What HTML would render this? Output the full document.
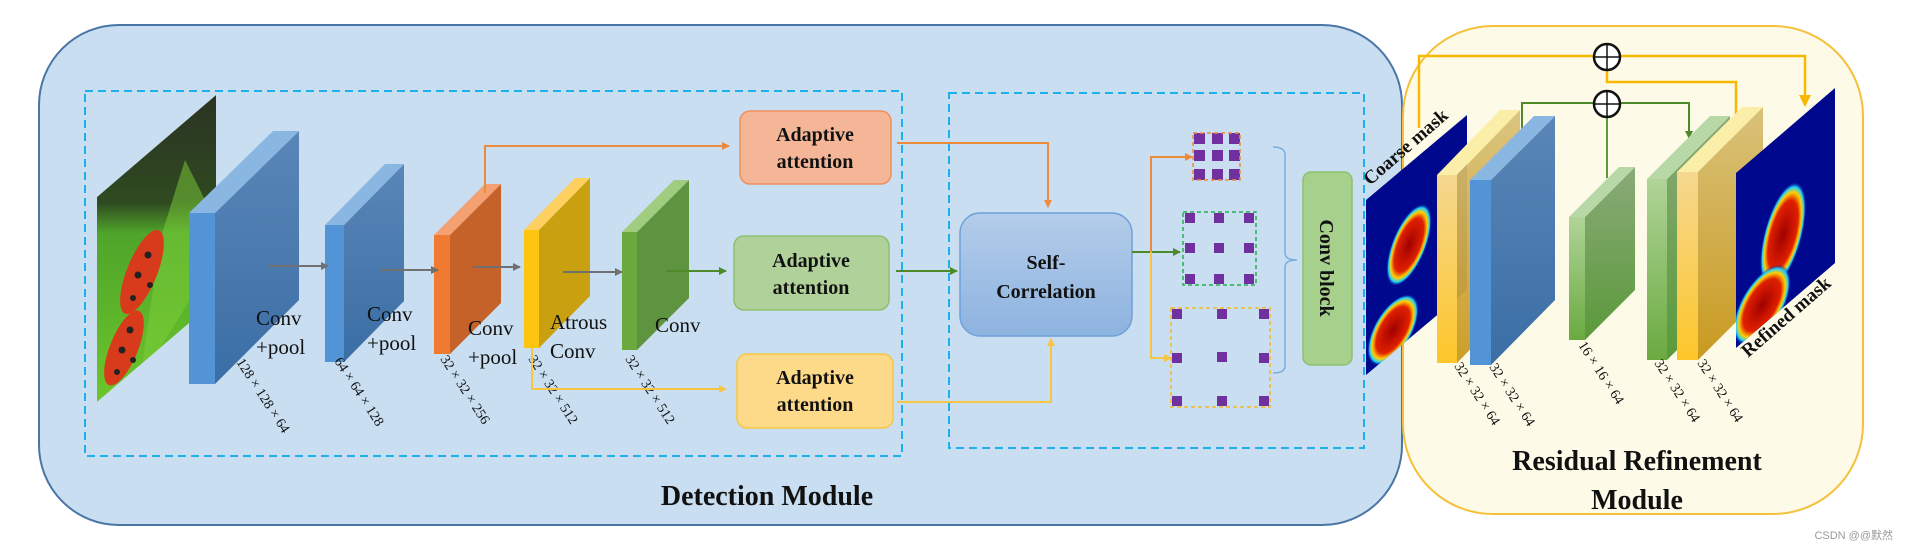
<!DOCTYPE html>
<html><head><meta charset="utf-8"><style>
html,body{margin:0;padding:0;background:#fff;}
svg{display:block;}
text{font-family:"Liberation Serif",serif;}
</style></head><body>
<svg width="1907" height="551" viewBox="0 0 1907 551" xmlns="http://www.w3.org/2000/svg">
<defs>
<linearGradient id="img" x1="0" y1="0" x2="0" y2="1"><stop offset="0" stop-color="#2b3323"/><stop offset="0.35" stop-color="#2f4a20"/><stop offset="0.45" stop-color="#4fa52a"/><stop offset="1" stop-color="#6cc62a"/></linearGradient>
<linearGradient id="sc" x1="0" y1="0" x2="0" y2="1"><stop offset="0" stop-color="#b4cdea"/><stop offset="1" stop-color="#8db3e0"/></linearGradient>
<linearGradient id="bs" x1="0" y1="0" x2="0" y2="1"><stop offset="0" stop-color="#5a86b8"/><stop offset="1" stop-color="#3a6ea5"/></linearGradient>
<linearGradient id="gs" x1="0" y1="0" x2="0" y2="1"><stop offset="0" stop-color="#8aaa78"/><stop offset="1" stop-color="#5a9a3a"/></linearGradient>
<linearGradient id="ys" x1="0" y1="0" x2="0" y2="1"><stop offset="0" stop-color="#d9c27a"/><stop offset="1" stop-color="#c99a20"/></linearGradient>
<linearGradient id="yf" x1="0" y1="0" x2="0" y2="1"><stop offset="0" stop-color="#f5d890"/><stop offset="1" stop-color="#fdc62a"/></linearGradient>
<linearGradient id="gf" x1="0" y1="0" x2="0" y2="1"><stop offset="0" stop-color="#b0d498"/><stop offset="1" stop-color="#6aaa40"/></linearGradient>
<radialGradient id="heat"><stop offset="0" stop-color="#a00000"/><stop offset="0.65" stop-color="#e02000"/><stop offset="0.8" stop-color="#ffd000"/><stop offset="0.9" stop-color="#20d0ff"/><stop offset="1" stop-color="#000090" stop-opacity="0"/></radialGradient>
<clipPath id="cm"><polygon points="1366,200 1467,115 1467,290 1366,375"/></clipPath>
<clipPath id="rm"><polygon points="1736,173 1835,88 1835,263 1736,348"/></clipPath>
<clipPath id="im"><polygon points="97,197 216,95 216,300 97,402"/></clipPath>
<marker id="ao" markerWidth="8" markerHeight="8" refX="7" refY="4" orient="auto" markerUnits="userSpaceOnUse"><path d="M0,0 L8,4 L0,8z" fill="#ee8a3c"/></marker>
<marker id="ag" markerWidth="8" markerHeight="8" refX="7" refY="4" orient="auto" markerUnits="userSpaceOnUse"><path d="M0,0 L8,4 L0,8z" fill="#4e8a2a"/></marker>
<marker id="ay" markerWidth="8" markerHeight="8" refX="7" refY="4" orient="auto" markerUnits="userSpaceOnUse"><path d="M0,0 L8,4 L0,8z" fill="#f8c444"/></marker>
<marker id="ay2" markerWidth="12" markerHeight="12" refX="10" refY="6" orient="auto" markerUnits="userSpaceOnUse"><path d="M0,0 L12,6 L0,12z" fill="#f8b800"/></marker>
<marker id="ak" markerWidth="8" markerHeight="8" refX="7" refY="4" orient="auto" markerUnits="userSpaceOnUse"><path d="M0,0 L8,4 L0,8z" fill="#707070"/></marker>
</defs>

<rect x="39" y="25" width="1363" height="500" rx="80" ry="80" fill="#c9def1" stroke="#4a76a6" stroke-width="2"/>
<rect x="1403" y="26" width="460" height="488" rx="90" ry="90" fill="#fdfbe8" stroke="#f5c03a" stroke-width="2"/>

<rect x="85" y="91" width="817" height="365" fill="none" stroke="#1cb0ec" stroke-width="2" stroke-dasharray="8,5"/>
<rect x="949" y="93" width="415" height="355" fill="none" stroke="#1cb0ec" stroke-width="2" stroke-dasharray="8,5"/>

<!-- input image -->
<g clip-path="url(#im)">
<polygon points="97,197 216,95 216,300 97,402" fill="url(#img)"/>
<polygon points="160,240 185,160 205,200 190,300 140,380" fill="#7ed03a" opacity="0.5"/>
<ellipse cx="142" cy="272" rx="15" ry="45" transform="rotate(22 142 272)" fill="#d83a1c"/>
<ellipse cx="124" cy="348" rx="14" ry="40" transform="rotate(22 124 348)" fill="#d83a1c"/>
<g fill="#222"><circle cx="148" cy="255" r="3.5"/><circle cx="138" cy="275" r="3.5"/><circle cx="150" cy="285" r="3"/><circle cx="133" cy="298" r="3"/><circle cx="130" cy="330" r="3.5"/><circle cx="122" cy="350" r="3.5"/><circle cx="133" cy="360" r="3"/><circle cx="117" cy="372" r="3"/></g>
</g>

<polygon points="215,213 299,131 299,300 215,384" fill="url(#bs)"/>
<polygon points="189,213 273,131 299,131 215,213" fill="#8ab6e2"/>
<rect x="189" y="213" width="26" height="171" fill="#5294d6"/>
<polygon points="344,225 404,164 404,301 344,362" fill="url(#bs)"/>
<polygon points="325,225 385,164 404,164 344,225" fill="#8ab6e2"/>
<rect x="325" y="225" width="19" height="137" fill="#5294d6"/>
<polygon points="450,235 501,184 501,303 450,354" fill="#c4622a"/>
<polygon points="434,235 485,184 501,184 450,235" fill="#f5a070"/>
<rect x="434" y="235" width="16" height="119" fill="#f07a30"/>
<polygon points="539,230 590,178 590,296 539,348" fill="#c9a010"/>
<polygon points="524,230 575,178 590,178 539,230" fill="#fdd060"/>
<rect x="524" y="230" width="15" height="118" fill="#fec510"/>
<polygon points="637,232 689,180 689,298 637,350" fill="#5e9440"/>
<polygon points="622,232 674,180 689,180 637,232" fill="#a0cc80"/>
<rect x="622" y="232" width="15" height="118" fill="#6aaa3c"/>

<g stroke="#707070" stroke-width="2" marker-end="url(#ak)">
<line x1="268" y1="266" x2="328" y2="266"/>
<line x1="380" y1="270" x2="438" y2="270"/>
<line x1="473" y1="267" x2="520" y2="267"/>
<line x1="563" y1="272" x2="622" y2="272"/>
</g>
<line x1="667" y1="271" x2="726" y2="271" stroke="#4e8a2a" stroke-width="2" marker-end="url(#ag)"/>

<g font-size="21" fill="#111">
<text x="256" y="325">Conv</text><text x="256" y="354">+pool</text>
<text x="367" y="321">Conv</text><text x="367" y="350">+pool</text>
<text x="468" y="335">Conv</text><text x="468" y="364">+pool</text>
<text x="550" y="329">Atrous</text><text x="550" y="358">Conv</text>
<text x="655" y="332">Conv</text>
</g>
<g font-size="14" fill="#111">
<text transform="translate(236,362) rotate(57)">128 × 128 × 64</text>
<text transform="translate(334,361) rotate(57)">64 × 64 × 128</text>
<text transform="translate(440,359) rotate(57)">32 × 32 × 256</text>
<text transform="translate(528,359) rotate(57)">32 × 32 × 512</text>
<text transform="translate(625,359) rotate(57)">32 × 32 × 512</text>
</g>

<polyline points="485,193 485,146 729,146" fill="none" stroke="#ee8a3c" stroke-width="2" marker-end="url(#ao)"/>
<polyline points="532,348 532,389 726,389" fill="none" stroke="#f8c444" stroke-width="2" marker-end="url(#ay)"/>

<rect x="740" y="111" width="151" height="73" rx="10" fill="#f5b597" stroke="#f0905a" stroke-width="1.5"/>
<rect x="734" y="236" width="155" height="74" rx="10" fill="#b0d29a" stroke="#8cc070" stroke-width="1.5"/>
<rect x="737" y="354" width="156" height="74" rx="10" fill="#fdd98a" stroke="#f5c842" stroke-width="1.5"/>
<g font-size="20" font-weight="bold" text-anchor="middle" fill="#111">
<text x="815" y="141">Adaptive</text><text x="815" y="168">attention</text>
<text x="811" y="267">Adaptive</text><text x="811" y="294">attention</text>
<text x="815" y="384">Adaptive</text><text x="815" y="411">attention</text>
</g>

<polyline points="897,143 1048,143 1048,207" fill="none" stroke="#ee8a3c" stroke-width="2" marker-end="url(#ao)"/>
<line x1="896" y1="271" x2="957" y2="271" stroke="#4e8a2a" stroke-width="2" marker-end="url(#ag)"/>
<polyline points="897,402 1051,402 1051,339" fill="none" stroke="#f8c444" stroke-width="2" marker-end="url(#ay)"/>

<rect x="960" y="213" width="172" height="123" rx="20" fill="url(#sc)" stroke="#6fa0d8" stroke-width="1.5"/>
<g font-size="20" font-weight="bold" text-anchor="middle" fill="#111">
<text x="1046" y="269">Self-</text><text x="1046" y="298">Correlation</text>
</g>

<line x1="1132" y1="252" x2="1180" y2="252" stroke="#4e8a2a" stroke-width="2" marker-end="url(#ag)"/>
<polyline points="1151,252 1151,157 1192,157" fill="none" stroke="#ee8a3c" stroke-width="2" marker-end="url(#ao)"/>
<polyline points="1151,252 1151,358 1171,358" fill="none" stroke="#f8c444" stroke-width="2" marker-end="url(#ay)"/>

<g fill="#7030a0">
<rect x="1194" y="133" width="11" height="11"/><rect x="1212" y="133" width="11" height="11"/><rect x="1229" y="133" width="11" height="11"/>
<rect x="1194" y="150" width="11" height="11"/><rect x="1212" y="150" width="11" height="11"/><rect x="1229" y="150" width="11" height="11"/>
<rect x="1194" y="169" width="11" height="11"/><rect x="1212" y="169" width="11" height="11"/><rect x="1229" y="169" width="11" height="11"/>
<rect x="1185" y="213" width="10" height="10"/><rect x="1214" y="213" width="10" height="10"/><rect x="1244" y="213" width="10" height="10"/>
<rect x="1185" y="243" width="10" height="10"/><rect x="1214" y="243" width="10" height="10"/><rect x="1244" y="243" width="10" height="10"/>
<rect x="1185" y="274" width="10" height="10"/><rect x="1214" y="274" width="10" height="10"/><rect x="1244" y="274" width="10" height="10"/>
<rect x="1172" y="309" width="10" height="10"/><rect x="1217" y="309" width="10" height="10"/><rect x="1259" y="309" width="10" height="10"/>
<rect x="1172" y="353" width="10" height="10"/><rect x="1217" y="352" width="10" height="10"/><rect x="1259" y="353" width="10" height="10"/>
<rect x="1172" y="396" width="10" height="10"/><rect x="1217" y="396" width="10" height="10"/><rect x="1259" y="396" width="10" height="10"/>
</g>
<rect x="1193" y="133" width="47" height="47" fill="none" stroke="#ee8a3c" stroke-width="1.5" stroke-dasharray="4,3"/>
<rect x="1183" y="212" width="73" height="73" fill="none" stroke="#22b050" stroke-width="1.5" stroke-dasharray="4,3"/>
<rect x="1171" y="308" width="99" height="99" fill="none" stroke="#f5b820" stroke-width="1.5" stroke-dasharray="4,3"/>

<path d="M1273,147 Q1285,147 1285,155 L1285,253 Q1285,260 1297,260 Q1285,260 1285,267 L1285,366 Q1285,373 1273,373" fill="none" stroke="#7aaee0" stroke-width="1.5"/>

<rect x="1303" y="172" width="49" height="193" rx="8" fill="#a8d08d" stroke="#8cc070" stroke-width="1.5"/>
<text transform="translate(1320,268) rotate(90)" font-size="20" font-weight="bold" text-anchor="middle" fill="#111">Conv  block</text>

<polyline points="1419,128 1419,56 1805,56 1805,105" fill="none" stroke="#f8b800" stroke-width="2.5" marker-end="url(#ay2)"/>
<polyline points="1607,70 1607,82 1736,82 1736,122" fill="none" stroke="#f8b800" stroke-width="2.5"/>
<polyline points="1522,140 1522,103 1689,103 1689,138" fill="none" stroke="#4e8a2a" stroke-width="2" marker-end="url(#ag)"/>
<line x1="1607" y1="104" x2="1607" y2="178" stroke="#5a9a3a" stroke-width="2"/>

<polygon points="1366,200 1467,115 1467,290 1366,375" fill="#00098e"/>
<g clip-path="url(#cm)">
<ellipse cx="1409" cy="245" rx="17" ry="44" transform="rotate(22 1409 245)" fill="url(#heat)"/>
<ellipse cx="1393" cy="330" rx="19" ry="40" transform="rotate(30 1393 330)" fill="url(#heat)"/>
</g>
<text transform="translate(1370,186) rotate(-41)" font-size="19" font-weight="bold" fill="#111">Coarse mask</text>

<polygon points="1457,175 1520,110 1520,298 1457,363" fill="url(#ys)" opacity="0.95"/>
<polygon points="1437,175 1500,110 1520,110 1457,175" fill="#fbeea8"/>
<rect x="1437" y="175" width="20" height="188" fill="url(#yf)"/>
<polygon points="1491,180 1555,116 1555,300 1491,365" fill="url(#bs)"/>
<polygon points="1470,180 1534,116 1555,116 1491,180" fill="#8ab6e2"/>
<rect x="1470" y="180" width="21" height="185" fill="#5294d6"/>
<polygon points="1585,217 1635,167 1635,290 1585,340" fill="url(#gs)"/>
<polygon points="1569,217 1619,167 1635,167 1585,217" fill="#b8d8a8"/>
<rect x="1569" y="217" width="16" height="123" fill="url(#gf)"/>
<polygon points="1667,179 1730,116 1730,297 1667,360" fill="url(#gs)"/>
<polygon points="1647,179 1710,116 1730,116 1667,179" fill="#b8d8a8"/>
<rect x="1647" y="179" width="20" height="181" fill="url(#gf)"/>
<polygon points="1698,172 1763,107 1763,295 1698,360" fill="url(#ys)"/>
<polygon points="1677,172 1742,107 1763,107 1698,172" fill="#fbeea8"/>
<rect x="1677" y="172" width="21" height="188" fill="url(#yf)"/>

<polygon points="1736,173 1835,88 1835,263 1736,348" fill="#00098e"/>
<g clip-path="url(#rm)">
<ellipse cx="1783" cy="235" rx="19" ry="55" transform="rotate(15 1783 235)" fill="url(#heat)"/>
<ellipse cx="1762" cy="305" rx="21" ry="45" transform="rotate(30 1762 305)" fill="url(#heat)"/>
</g>
<text transform="translate(1748,358) rotate(-41)" font-size="19" font-weight="bold" fill="#111">Refined mask</text>

<g fill="#fff" stroke="#111" stroke-width="2.5">
<circle cx="1607" cy="57" r="13"/><circle cx="1607" cy="104" r="13"/>
</g>
<g stroke="#111" stroke-width="1.5">
<line x1="1594" y1="57" x2="1620" y2="57"/><line x1="1607" y1="44" x2="1607" y2="70"/>
<line x1="1594" y1="104" x2="1620" y2="104"/><line x1="1607" y1="91" x2="1607" y2="117"/>
</g>

<g font-size="14" fill="#111">
<text transform="translate(1454,366) rotate(57)">32 × 32 × 64</text>
<text transform="translate(1489,367) rotate(57)">32 × 32 × 64</text>
<text transform="translate(1578,345) rotate(57)">16 × 16 × 64</text>
<text transform="translate(1654,363) rotate(57)">32 × 32 × 64</text>
<text transform="translate(1697,363) rotate(57)">32 × 32 × 64</text>
</g>

<g font-size="28" font-weight="bold" fill="#111">
<text x="767" y="505" text-anchor="middle">Detection Module</text>
<text x="1637" y="470" text-anchor="middle">Residual Refinement</text>
<text x="1637" y="509" text-anchor="middle">Module</text>
</g>
<text x="1893" y="539" font-size="11" fill="#999" text-anchor="end" style='font-family:"Liberation Sans","Noto Sans CJK SC",sans-serif'>CSDN @@默然</text>
</svg>
</body></html>
